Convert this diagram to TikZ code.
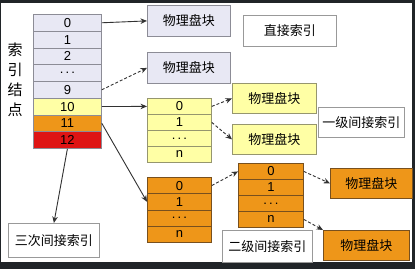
\documentclass[tikz,border=0pt]{standalone}
\usepackage{fontspec}
\setmainfont{Liberation Sans}
\newfontfamily\cjk{Noto Sans CJK SC}
\usetikzlibrary{positioning,arrows.meta}
\definecolor{FrameDark}{RGB}{32,36,40}
\definecolor{CellLilac}{RGB}{232,232,244}
\definecolor{CellEdge}{RGB}{140,140,150}
\definecolor{LevelYellow}{RGB}{255,255,165}
\definecolor{YellowEdge}{RGB}{150,150,110}
\definecolor{LevelOrange}{RGB}{238,150,25}
\definecolor{OrangeEdge}{RGB}{120,80,30}
\definecolor{LevelRed}{RGB}{222,20,20}
\definecolor{WireGray}{RGB}{50,50,50}
\tikzset{
	cell/.style={draw=CellEdge,line width=0.8pt,minimum width=68pt,minimum height=16.75pt,
		inner sep=0pt,anchor=north west,font=\fontsize{13}{13}\selectfont},
	block/.style={draw=CellEdge,fill=CellLilac,line width=0.8pt,minimum width=83pt,minimum height=31pt,
		inner sep=0pt,anchor=north west,font=\cjk\fontsize{13}{13}\selectfont},
	tag/.style={draw=black!40,fill=white,line width=0.8pt,minimum height=31pt,
		inner sep=0pt,anchor=north west,font=\cjk\fontsize{13}{13}\selectfont},
	link/.style={draw=WireGray,line width=0.9pt,-{Stealth[length=6.5pt,width=5.5pt]}},
	dashlink/.style={link,dash pattern=on 3pt off 2pt},
}

\begin{document}
\begin{tikzpicture}[x=1pt,y=-1pt]
	\useasboundingbox (0,0) rectangle (415,269);
	\fill[FrameDark] (0,0) rectangle (415,269);
	\fill[white] (1,3) rectangle (412,262);
	% index node
	\node[font=\cjk\fontsize{15}{20}\selectfont,align=center] (title) at (15,80) {索\\引\\结\\点};
	\foreach \n/\t/\c [count=\i from 0] in {r0/0/CellLilac,r1/1/CellLilac,r2/2/CellLilac,rd/{.\,.\,.}/CellLilac,
		r9/9/CellLilac,r10/10/LevelYellow,r11/11/LevelOrange,r12/12/LevelRed}
	\node[cell,fill=\c] (\n) at (33,{14+16.75*\i}) {\t};
	% single indirect
	\foreach \n/\t [count=\i from 0] in {a0/0,a1/1,ad/{.\,.\,.},an/n}
	\node[cell,fill=LevelYellow,draw=YellowEdge,minimum width=64pt,minimum height=16pt] (\n) at (147,{98+16*\i}) {\t};
	% double indirect
	\foreach \n/\t [count=\i from 0] in {b0/0,b1/1,bd/{.\,.\,.},bn/n}
	\node[cell,fill=LevelOrange,draw=OrangeEdge,minimum width=64pt,minimum height=16.25pt] (\n) at (147,{177+16.25*\i}) {\t};
	\foreach \n/\t [count=\i from 0] in {c0/0,c1/1,cd/{.\,.\,.},cn/n}
	\node[cell,fill=LevelOrange,draw=OrangeEdge,minimum width=65pt,minimum height=16pt] (\n) at (238,{163+16*\i}) {\t};
	% data blocks
	\node[block] (p0) at (147,5) {物理盘块};
	\node[block] (p9) at (147,52) {物理盘块};
	\node[block,fill=LevelYellow,draw=YellowEdge,minimum width=84pt,minimum height=30pt] (pa0) at (232,83) {物理盘块};
	\node[block,fill=LevelYellow,draw=YellowEdge,minimum width=84pt,minimum height=30pt] (pa1) at (232,124) {物理盘块};
	\node[block,fill=LevelOrange,draw=OrangeEdge,minimum width=82pt,minimum height=30pt] (pc0) at (330,168) {物理盘块};
	\node[block,fill=LevelOrange,draw=OrangeEdge,minimum width=86pt,minimum height=30pt] (pcn) at (323,230) {物理盘块};
	% captions
	\node[tag,minimum width=93pt] (direct) at (243,15) {直接索引};
	\node[tag,minimum width=86pt,minimum height=30pt] (single) at (318,107) {一级间接索引};
	\node[tag,minimum width=90pt,minimum height=32pt] (double) at (222,230) {二级间接索引};
	\node[tag,minimum width=91pt,minimum height=34pt] (triple) at (8,223) {三次间接索引};
	% pointers
	\draw[link] (r0.east) -- (p0.west);
	\draw[dashlink] (r9.east) -- (p9.west);
	\draw[link] (r10.east) -- (a0.west);
	\draw[link] (r11.east) -- (b1.west);
	\draw[link] (r12.south) -- (triple.north);
	\draw[dashlink] (a0.east) -- (pa0.west);
	\draw[dashlink] (a1.east) -- (pa1.west);
	\draw[dashlink] (b0.east) -- (c0.west);
	\draw[dashlink] (c0.east) -- (pc0.west);
	\draw[dashlink] (cn.east) -- (pcn.north west);
\end{tikzpicture}
\end{document}
